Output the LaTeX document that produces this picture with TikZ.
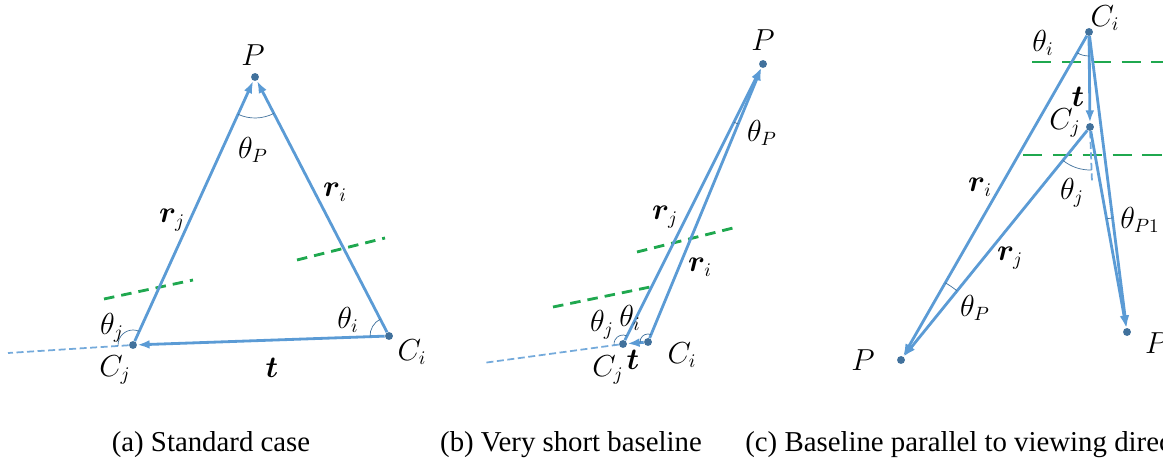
\documentclass[tikz,border=0pt]{standalone}
\usepackage{amsmath,bm}
\usepackage{fontspec}
\setmainfont{Liberation Serif}
\usetikzlibrary{arrows.meta,angles}
\definecolor{vecblue}{HTML}{5B9BD5}
\definecolor{dotblue}{HTML}{41719C}
\definecolor{basegreen}{HTML}{1FA84F}

\begin{document}
\begin{tikzpicture}[x=0.02cm,y=0.02cm,>={Latex[length=7pt,width=5pt]},
  vec/.style={->,vecblue,line width=1.6pt},
  pt/.style={circle,fill=dotblue,inner sep=0pt,minimum size=4.5pt},
  lbl/.style={font=\fontsize{16}{18}\selectfont,inner sep=1pt},
  subcap/.style={font=\fontsize{16.4}{19}\selectfont,inner sep=0pt},
  base/.style={basegreen,line width=1.6pt,dash pattern=on 6pt off 4pt},
  ext/.style={vecblue!85,line width=1pt,dash pattern=on 4pt off 2pt},
  ang/.style={draw=dotblue,line width=0.4pt}]
  \clip (0,0) rectangle (1163,470);

  % (a) standard case
  \node[pt] (Pa)  at (255,393) {};
  \node[pt] (Cia) at (389,134) {};
  \node[pt] (Cja) at (133,125) {};
  \coordinate (Ea) at (8,117);
  \draw[base] (104,171) -- (193,190);
  \draw[base] (297,210) -- (385,232);
  \draw[ext] (Cja) -- (Ea);
  \draw[vec] (Cja) -- (Pa);
  \draw[vec] (Cia) -- (Pa);
  \draw[vec] (Cia) -- (Cja);
  \pic[ang,angle radius=0.82cm] {angle=Cja--Pa--Cia};
  \pic[ang,angle radius=0.38cm] {angle=Pa--Cia--Cja};
  \pic[ang,angle radius=0.3cm] {angle=Pa--Cja--Ea};
  \node[lbl] (lPa)  at (253,415) {$P$};
  \node[lbl] (ltPa) at (253,320) {$\theta_P$};
  \node[lbl] (lria) at (335,278) {$\bm{r}_i$};
  \node[lbl] (lrja) at (172,250) {$\bm{r}_j$};
  \node[lbl] (ltia) at (348,150) {$\theta_i$};
  \node[lbl] (ltja) at (112,142) {$\theta_j$};
  \node[lbl] (lCja) at (115,100) {$C_j$};
  \node[lbl] (lta)  at (272,102) {$\bm{t}$};
  \node[lbl] (lCia) at (412,118) {$C_i$};

  % (b) very short baseline
  \node[pt] (Pb)  at (763,406) {};
  \node[pt] (Cib) at (648,128) {};
  \node[pt] (Cjb) at (623,126) {};
  \coordinate (Eb) at (483,107);
  \draw[base] (637,218) -- (737,243);
  \draw[base] (553,163) -- (655,184);
  \draw[ext] (Cjb) -- (Eb);
  \draw[vec] (Cjb) -- (Pb);
  \draw[vec] (Cib) -- (Pb);
  \draw[vec] (Cib) -- (Cjb);
  \pic[ang,angle radius=1.3cm] {angle=Cjb--Pb--Cib};
  \pic[ang,angle radius=0.16cm] {angle=Pb--Cib--Cjb};
  \pic[ang,angle radius=0.18cm] {angle=Pb--Cjb--Eb};
  \node[lbl] (lPb)  at (763,430) {$P$};
  \node[lbl] (ltPb) at (762,337) {$\theta_P$};
  \node[lbl] (lrjb) at (665,253) {$\bm{r}_j$};
  \node[lbl] (lrib) at (700,203) {$\bm{r}_i$};
  \node[lbl] (ltib) at (630,152) {$\theta_i$};
  \node[lbl] (ltjb) at (602,145) {$\theta_j$};
  \node[lbl] (lCjb) at (608,100) {$C_j$};
  \node[lbl] (ltb)  at (633,110) {$\bm{t}$};
  \node[lbl] (lCib) at (682,115) {$C_i$};

  % (c) baseline parallel to viewing direction
  \node[pt] (Cic) at (1089,438) {};
  \node[pt] (Cjc) at (1090,343) {};
  \node[pt] (Pc)  at (901,110) {};
  \node[pt] (P1c) at (1127,138) {};
  \coordinate (Ec) at (1092,288);
  \draw[base,dash pattern=on 11pt off 6pt] (1032,408) -- (1170,408);
  \draw[base,dash pattern=on 11pt off 6pt] (1023,315) -- (1170,315);
  \draw[ext] (Cjc) -- (Ec);
  \draw[vec] (Cic) -- (Pc);
  \draw[vec] (Cjc) -- (Pc);
  \draw[vec] (Cic) -- (Cjc);
  \draw[vec] (Cic) -- (P1c);
  \draw[vec] (Cjc) -- (P1c);
  \pic[ang,angle radius=0.48cm] {angle=Pc--Cic--Cjc};
  \pic[ang,angle radius=0.86cm] {angle=Pc--Cjc--Ec};
  \pic[ang,angle radius=1.78cm] {angle=Cjc--Pc--Cic};
  \pic[ang,angle radius=2.3cm] {angle=Cic--P1c--Cjc};
  \node[lbl] (lCic)  at (1105,452) {$C_i$};
  \node[lbl] (ltic)  at (1043,427) {$\theta_i$};
  \node[lbl] (ltc)   at (1078,373) {$\bm{t}$};
  \node[lbl] (lCjc)  at (1065,347) {$C_j$};
  \node[lbl] (lric)  at (980,283) {$\bm{r}_i$};
  \node[lbl] (ltjc)  at (1072,277) {$\theta_j$};
  \node[lbl] (ltP1c) at (1140,250) {$\theta_{P1}$};
  \node[lbl] (lrjc)  at (1010,212) {$\bm{r}_j$};
  \node[lbl] (ltPc)  at (975,162) {$\theta_P$};
  \node[lbl] (lPc)   at (863,110) {$P$};
  \node[lbl,anchor=west] (lP1c) at (1143,125) {$P_1$};

  % captions
  \node[subcap] (capa) at (211,25) {(a) Standard case};
  \node[subcap] (capb) at (571,25) {(b) Very short baseline};
  \node[subcap,anchor=west] (capc) at (745,25) {(c) Baseline parallel to viewing direction};
\end{tikzpicture}
\end{document}
